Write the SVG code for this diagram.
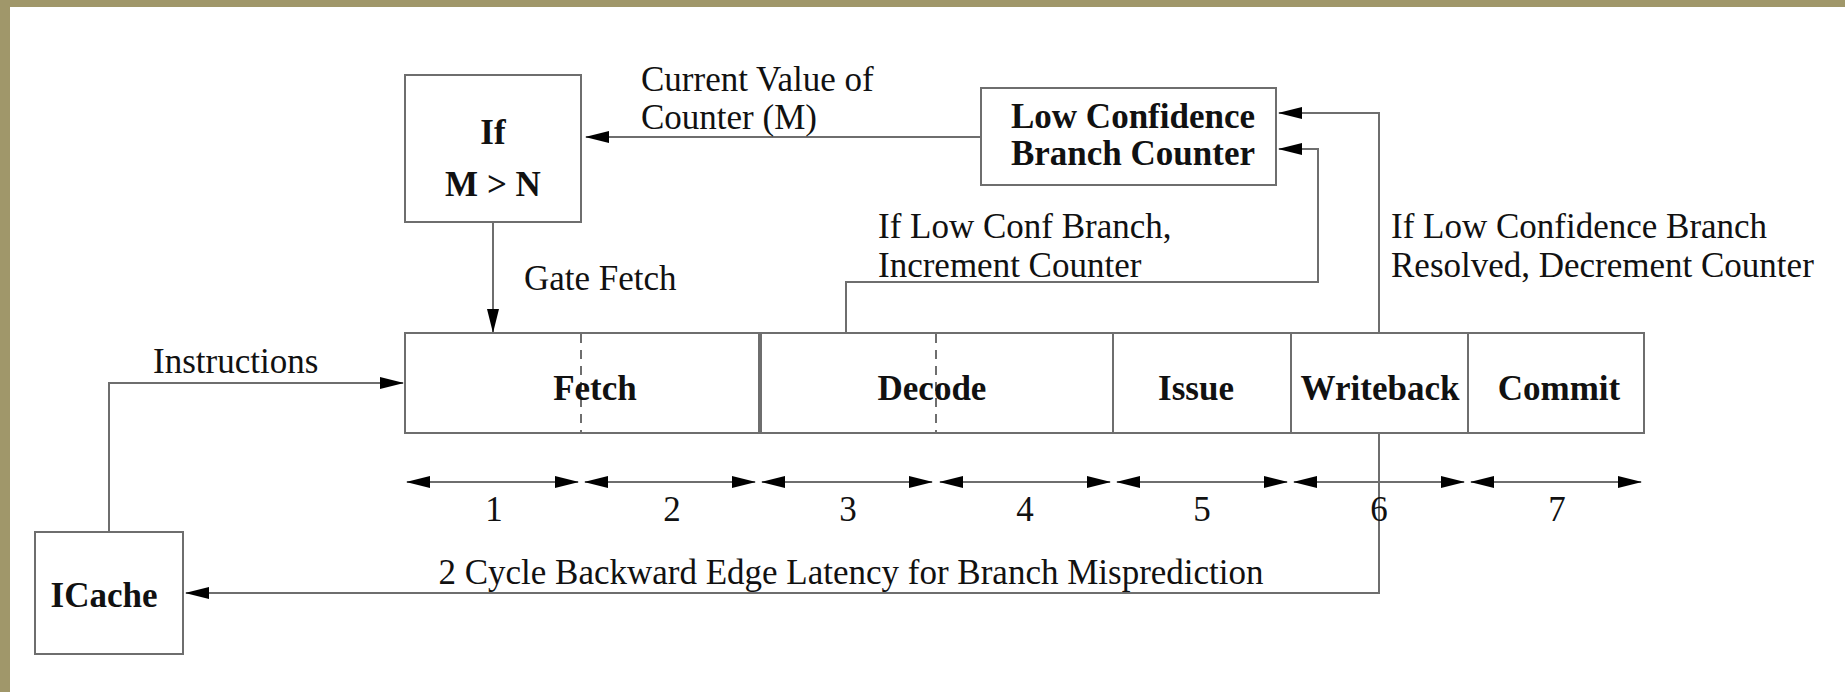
<svg xmlns="http://www.w3.org/2000/svg" width="1845" height="692" viewBox="0 0 1845 692">
  <style>
    .box { fill: #ffffff; stroke: #6e6e6e; stroke-width: 2; }
    .ln { fill: none; stroke: #6e6e6e; stroke-width: 2; }
    .dash { fill: none; stroke: #6e6e6e; stroke-width: 2; stroke-dasharray: 9 7; }
    .t { font-family: "Liberation Serif", "Times New Roman", serif; font-size: 35px; fill: #111; }
    .b { font-weight: bold; }
    .c { text-anchor: middle; }
  </style>
  <defs>
    <marker id="ah" markerUnits="userSpaceOnUse" markerWidth="24" markerHeight="12" refX="23" refY="6" orient="auto-start-reverse">
      <path d="M0,0 L24,6 L0,12 Z" fill="#000"/>
    </marker>
  </defs>

  <rect x="0" y="0" width="1845" height="692" fill="#ffffff"/>
  <rect x="0" y="0" width="1845" height="7" fill="#a0976a"/>
  <rect x="0" y="0" width="10" height="692" fill="#a0976a"/>

  <g id="connectors">
    <path class="ln" d="M981,137 H586" marker-end="url(#ah)"/>
    <path class="ln" d="M493,222 V332" marker-end="url(#ah)"/>
    <path class="ln" d="M109,532 V383 H403" marker-end="url(#ah)"/>
    <path class="ln" d="M1379,333 V113 H1279" marker-end="url(#ah)"/>
    <path class="ln" d="M846,333 V282 H1318 V149 H1279" marker-end="url(#ah)"/>
    <path class="ln" d="M1379,433 V593 H186" marker-end="url(#ah)"/>
  </g>

  <g id="cycles">
    <path class="ln" d="M407,482 H578" marker-start="url(#ah)" marker-end="url(#ah)"/>
    <path class="ln" d="M585,482 H755" marker-start="url(#ah)" marker-end="url(#ah)"/>
    <path class="ln" d="M762,482 H932" marker-start="url(#ah)" marker-end="url(#ah)"/>
    <path class="ln" d="M940,482 H1110" marker-start="url(#ah)" marker-end="url(#ah)"/>
    <path class="ln" d="M1117,482 H1287" marker-start="url(#ah)" marker-end="url(#ah)"/>
    <path class="ln" d="M1294,482 H1464" marker-start="url(#ah)" marker-end="url(#ah)"/>
    <path class="ln" d="M1471,482 H1641" marker-start="url(#ah)" marker-end="url(#ah)"/>
    <text class="t c" x="494" y="521">1</text>
    <text class="t c" x="672" y="521">2</text>
    <text class="t c" x="848" y="521">3</text>
    <text class="t c" x="1025" y="521">4</text>
    <text class="t c" x="1202" y="521">5</text>
    <text class="t c" x="1379" y="521">6</text>
    <text class="t c" x="1557" y="521">7</text>
  </g>

  <g id="labels">
    <text class="t" x="641" y="91">Current Value of</text>
    <text class="t" x="641" y="129">Counter (M)</text>
    <text class="t" x="524" y="290">Gate Fetch</text>
    <text class="t" x="153" y="373">Instructions</text>
    <text class="t" x="878" y="238">If Low Conf Branch,</text>
    <text class="t" x="878" y="277">Increment Counter</text>
    <text class="t" x="1391" y="238">If Low Confidence Branch</text>
    <text class="t" x="1391" y="277">Resolved, Decrement Counter</text>
    <text class="t c" x="851" y="584">2 Cycle Backward Edge Latency for Branch Misprediction</text>
  </g>

  <g id="gate">
    <rect class="box" x="405" y="75" width="176" height="147"/>
    <text class="t b c" x="493" y="144">If</text>
    <text class="t b c" x="493" y="196">M &gt; N</text>
  </g>

  <g id="counter">
    <rect class="box" x="981" y="88" width="295" height="97"/>
    <text class="t b c" x="1133" y="128">Low Confidence</text>
    <text class="t b c" x="1133" y="165">Branch Counter</text>
  </g>

  <g id="icache">
    <rect class="box" x="35" y="532" width="148" height="122"/>
    <text class="t b c" x="104" y="607">ICache</text>
  </g>

  <g id="fetch">
    <rect class="box" x="405" y="333" width="354" height="100"/>
    <line class="dash" x1="581" y1="334" x2="581" y2="432"/>
    <text class="t b c" x="595" y="400">Fetch</text>
  </g>
  <g id="decode">
    <rect class="box" x="761" y="333" width="352" height="100"/>
    <line class="dash" x1="936" y1="334" x2="936" y2="432"/>
    <text class="t b c" x="932" y="400">Decode</text>
  </g>
  <g id="issue">
    <rect class="box" x="1113" y="333" width="178" height="100"/>
    <text class="t b c" x="1196" y="400">Issue</text>
  </g>
  <g id="writeback">
    <rect class="box" x="1291" y="333" width="177" height="100"/>
    <text class="t b c" x="1380" y="400">Writeback</text>
  </g>
  <g id="commit">
    <rect class="box" x="1468" y="333" width="176" height="100"/>
    <text class="t b c" x="1559" y="400">Commit</text>
  </g>
</svg>
